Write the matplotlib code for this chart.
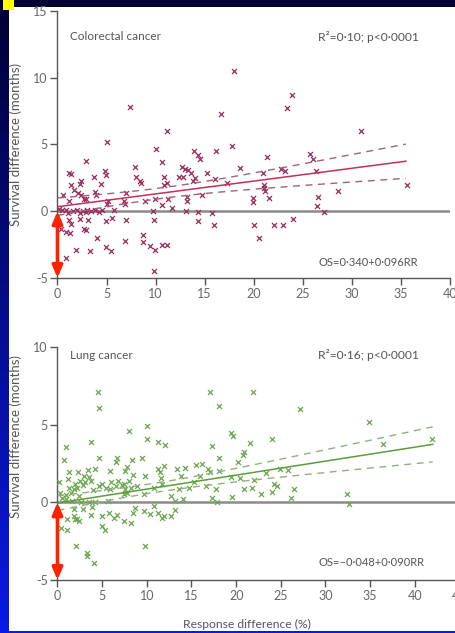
import numpy as np
import matplotlib
matplotlib.use("Agg")
import matplotlib.pyplot as plt
from matplotlib.patches import Rectangle

plt.rcParams['font.family'] = ['Lato', 'DejaVu Sans']
plt.rcParams['axes.unicode_minus'] = False

# ---- Colorectal cancer: response difference (%) vs survival difference (months)
crc_x = [7.35, 16.7, 11.2, 5.0, 10.0, 13.9, 14.3, 14.5, 16.2, 2.86, 10.7, 7.9, 1.2, 1.4,
         4.8, 4.9, 3.7, 12.7, 12.96, 13.3, 13.6, 12.4, 12.8, 15.2, 8.0, 8.5, 2.4, 2.25,
         4.4, 10.9, 11.2, 10.9, 14.0, 16.0, 1.4, 1.7, 2.1, 2.4, 0.55, 3.8, 3.95, 2.7,
         2.9, 1.2, 5.1, 5.0, 7.0, 6.8, 6.9, 8.9, 9.9, 11.3, 13.2, 13.2, 14.7, 10.6,
         11.7, 0.2, 0.9, 1.6, 2.25, 2.9, 3.4, 3.8, 5.8, 9.7, 13.1, 14.3, 15.7, 1.2,
         1.4, 2.25, 3.1, 4.9, 5.6, 7.0, 9.8, 14.3, 15.95, 0.4, 0.9, 1.3, 2.7, 2.9,
         4.05, 6.9, 8.7, 8.7, 9.4, 9.9, 10.6, 11.2, 4.9, 5.5, 1.9, 3.3, 0.9, 9.8,
         18.0, 23.9, 23.4, 30.9, 17.8, 21.4, 25.7, 26.05, 18.6, 22.8, 23.2, 20.9,
         26.3, 17.3, 21.0, 21.0, 21.1, 35.6, 28.6, 19.9, 19.9, 21.6, 26.5, 26.4,
         27.2, 20.0, 22.1, 23.0, 24.0, 20.5, 0.5, 1.1, 2.0, 2.6, 3.0, 4.2, 4.5,
         8.4, 13.8]
crc_y = [7.8, 7.3, 6.0, 5.2, 4.7, 4.55, 4.2, 3.9, 4.5, 3.8, 3.7, 3.3, 2.9, 2.8,
         3.0, 2.75, 2.6, 3.3, 3.2, 3.06, 2.9, 2.6, 2.6, 2.9, 2.56, 2.14, 2.3, 2.07,
         2.07, 2.56, 2.14, 1.94, 2.5, 2.4, 1.94, 1.57, 1.37, 1.25, 1.25, 1.44, 1.2, 0.95,
         0.9, 0.8, 0.75, 0.57, 1.37, 0.75, 0.57, 0.8, 0.9, 0.9, 1.07, 0.75, 1.25, 0.5,
         0.25, 0.2, 0.07, 0.0, -0.1, -0.05, 0.0, 0.07, 0.07, 0.0, 0.0, -0.05, -0.1, -0.67,
         -0.92, -0.6, -0.62, -0.72, -0.5, -0.67, -0.67, -0.75, -1.04, -1.34, -1.54, -1.6, -1.34, -1.42,
         -2.04, -2.24, -1.8, -2.3, -2.6, -2.9, -2.5, -2.5, -2.7, -3.0, -2.9, -2.95, -3.5, -4.5,
         10.5, 8.7, 7.7, 6.0, 4.9, 4.1, 4.3, 3.9, 3.26, 3.19, 3.0, 2.86,
         3.0, 2.1, 2.0, 1.77, 1.5, 2.0, 1.5, 1.0, 0.7, 1.0, 1.1, 0.37,
         -0.05, -1.04, -1.0, -1.0, -0.55, -2.04, 0.1, -0.1, 0.1, 0.05, 0.1, -0.05, 0.1,
         2.3, 2.3]
crc_intercept, crc_slope = 0.340, 0.096
crc_fit_end = 35.5

# ---- Lung cancer
lung_x = [4.5, 4.7, 17.1, 18.1, 10.0, 8.0, 10.0, 3.8, 11.3, 12.0, 1.0, 17.3, 0.7, 4.6,
          6.7, 6.5, 8.3, 9.5, 11.9, 11.2, 15.5, 16.2, 18.1, 1.3, 2.3, 3.4, 4.2, 5.9,
          7.6, 7.8, 9.85, 8.4, 11.5, 11.6, 13.4, 13.8, 14.3, 16.9, 17.1, 15.9, 1.2, 0.15,
          3.5, 3.1, 3.7, 2.8, 2.2, 1.8, 1.46, 4.6, 5.4, 5.9, 6.5, 7.2, 7.6, 7.8,
          7.4, 8.2, 8.9, 9.7, 10.8, 11.7, 12.7, 13.6, 14.7, 15.3, 16.6, 17.7, 17.3, 17.9,
          0.9, 1.6, 2.6, 3.5, 4.25, 5.6, 14.0, 1.8, 2.9, 3.9, 1.8, 2.2, 1.1, 0.34,
          1.1, 3.7, 5.0, 5.75, 6.3, 6.7, 7.4, 8.2, 8.7, 9.7, 10.4, 10.8, 11.7, 12.7,
          13.1, 5.0, 5.3, 9.85, 2.1, 3.25, 3.3, 4.1,
          21.9, 27.2, 34.9, 19.4, 19.6, 21.6, 24.0, 41.9, 36.4, 20.9, 20.8, 20.2, 18.1,
          19.4, 20.4, 23.3, 24.9, 25.8, 22.0, 24.2, 24.6, 20.9, 21.8, 26.5, 22.8, 24.0,
          19.5, 26.1, 32.4, 32.6,
          1.0, 1.3, 2.0, 2.5, 3.0, 4.0, 5.0, 6.0, 6.8, 7.5, 8.0, 2.4, 0.5, 0.3,
          8.5, 11.2, 11.9, 13.2, 2.0, 2.4]
lung_y = [7.1, 6.1, 7.1, 6.2, 4.9, 4.6, 4.05, 3.9, 3.9, 3.66, 3.55, 3.6, 2.7, 2.86,
          2.86, 2.6, 2.7, 2.84, 2.36, 2.14, 2.4, 2.5, 2.84, 1.97, 1.97, 2.1, 2.14, 2.0,
          2.03, 2.3, 1.67, 1.75, 1.93, 1.54, 2.14, 1.7, 2.19, 2.14, 1.93, 1.7, 1.5, 1.28,
          1.6, 1.32, 1.38, 1.1, 0.95, 0.84, 0.63, 1.06, 0.95, 0.89, 1.02, 1.1, 0.84, 0.63,
          0.52, 0.95, 1.06, 0.52, 0.95, 1.17, 0.41, 0.84, 0.95, 1.28, 1.06, 0.84, 0.3, 0.02,
          0.2, 0.08, 0.02, 0.0, 0.02, 0.08, 0.2, -0.45, -0.45, -0.28, -0.89, -1.1, -1.1, -1.64,
          -1.75, -0.84, -0.89, -0.67, -1.0, -0.84, -1.2, -1.3, -0.35, -0.56, -0.78, -0.24, -1.0, -0.89,
          -0.5, -1.54, -1.8, -2.8, -2.84, -3.27, -3.44, -3.9,
          7.08, 6.0, 5.2, 4.48, 4.26, 3.83, 4.1, 4.05, 3.77, 3.27, 3.05, 2.58, 2.0,
          1.6, 1.54, 1.88, 2.14, 2.08, 1.45, 1.17, 1.06, 0.89, 0.95, 0.89, 0.52, 0.67,
          0.37, 0.3, 0.52, -0.13,
          0.5, 0.9, 1.2, 1.4, 1.7, 0.8, 1.2, 1.3, 1.4, 1.2, 1.4, 0.4, 0.3, 0.6,
          -0.67, -0.67, -0.89, 0.08, -1.06, -1.2]
lung_intercept, lung_slope = -0.048, 0.090
lung_fit_end = 42.0

text_col = '#555555'
tick_col = '#666666'
spine_col = '#555555'

fig = plt.figure(figsize=(4.56, 6.33), dpi=100)
W, H = 456.0, 633.0


def px(x, y):
    """Pixel position (origin top-left) to figure fraction."""
    return x / W, 1 - y / H


# slide background: vertical blue gradient with a white content panel
bg = fig.add_axes([0, 0, 1, 1], zorder=-10)
grad = np.linspace(0, 1, 256)[:, None]
top = np.array([0.0, 0.0, 0.20])
bot = np.array([0.04, 0.10, 0.90])
img = (top[None, None, :] * (1 - grad[..., None]) + bot[None, None, :] * grad[..., None])
img = np.repeat(img, 4, axis=1)
bg.imshow(img, aspect='auto', extent=[0, 1, 0, 1], origin='upper')
bg.add_patch(Rectangle((9 / W, 1 - 631 / H), 1 - 9 / W, (631 - 7) / H,
                       facecolor='white', edgecolor='none'))
bg.add_patch(Rectangle((3 / W, 1 - 10 / H), 11 / W, 10 / H,
                       facecolor='#ffff00', edgecolor='none'))
bg.set_xlim(0, 1)
bg.set_ylim(0, 1)
bg.axis('off')


def fit_band(x, y, a, b, xs, t=1.97):
    x = np.asarray(x)
    y = np.asarray(y)
    n = len(x)
    resid = y - (a + b * x)
    s = np.sqrt(np.sum(resid ** 2) / (n - 2))
    xbar = x.mean()
    sxx = np.sum((x - xbar) ** 2)
    return t * s * np.sqrt(1.0 / n + (xs - xbar) ** 2 / sxx)


def panel(rect, x, y, a, b, x_end, xlim, ylim, yticks, xticks,
          pt_col, line_col, dash_col):
    ax = fig.add_axes(rect)
    ax.set_facecolor('none')
    ax.set_xlim(*xlim)
    ax.set_ylim(*ylim)
    for side in ('top', 'right'):
        ax.spines[side].set_visible(False)
    for side in ('left', 'bottom'):
        ax.spines[side].set_color(spine_col)
        ax.spines[side].set_linewidth(1.0)
    ax.set_yticks(yticks)
    ax.set_xticks(xticks)
    ax.tick_params(axis='both', length=5, width=1.0, color=spine_col,
                   labelcolor=tick_col, labelsize=9, pad=2)
    ax.axhline(0, color='#8a8a8a', lw=1.8, zorder=1)
    ax.scatter(x, y, marker='x', s=13, linewidths=0.9, color=pt_col, zorder=3)
    xs = np.linspace(0, x_end, 100)
    fit = a + b * xs
    band = fit_band(x, y, a, b, xs)
    ax.plot(xs, fit, color=line_col, lw=1.1, zorder=4)
    ax.plot(xs, fit + band, color=dash_col, lw=1.0, ls=(0, (5, 4)), zorder=4)
    ax.plot(xs, fit - band, color=dash_col, lw=1.0, ls=(0, (5, 4)), zorder=4)
    ax.annotate('', xy=(0, ylim[0]), xytext=(0, 0),
                arrowprops=dict(arrowstyle='<|-|>,head_length=0.7,head_width=0.3',
                                color='#ff2200', lw=2.6, shrinkA=0, shrinkB=0),
                annotation_clip=False, zorder=6)
    return ax


ax1 = panel([57.5 / W, 1 - 278 / H, (450 - 57.5) / W, (278 - 11) / H],
            crc_x, crc_y, crc_intercept, crc_slope, crc_fit_end,
            (0, 40), (-5, 15), [-5, 0, 5, 10, 15], np.arange(0, 41, 5),
            '#9c2a5c', '#c4305a', '#a06080')

ax2 = panel([57.5 / W, 1 - 580 / H, (459.5 - 57.5) / W, (580 - 347) / H],
            lung_x, lung_y, lung_intercept, lung_slope, lung_fit_end,
            (0, 45), (-5, 10), [-5, 0, 5, 10], np.arange(0, 46, 5),
            '#6aa84f', '#5a9e3a', '#8fb07a')

labels = [
    (70, 37, 'Colorectal cancer', 8.5),
    (318, 37, 'R\u00b2=0\u00b710; p<0\u00b70001', 8.7),
    (319, 262, 'OS=0\u00b7340+0\u00b7096RR', 8),
    (70, 355, 'Lung cancer', 8.5),
    (318, 355, 'R\u00b2=0\u00b716; p<0\u00b70001', 8.7),
    (319, 563, 'OS=\u22120\u00b7048+0\u00b7090RR', 8),
]
for x0, y0, s, fs in labels:
    fig.text(*px(x0, y0), s, fontsize=fs, color=text_col, ha='left', va='center')

fig.text(*px(16, 144), 'Survival difference (months)', rotation=90,
         fontsize=9.5, color=text_col, ha='center', va='center')
fig.text(*px(16, 437), 'Survival difference (months)', rotation=90,
         fontsize=9.5, color=text_col, ha='center', va='center')
fig.text(*px(247, 624), 'Response difference (%)',
         fontsize=8.7, color=text_col, ha='center', va='center')

fig.savefig('out.png', dpi=100)
